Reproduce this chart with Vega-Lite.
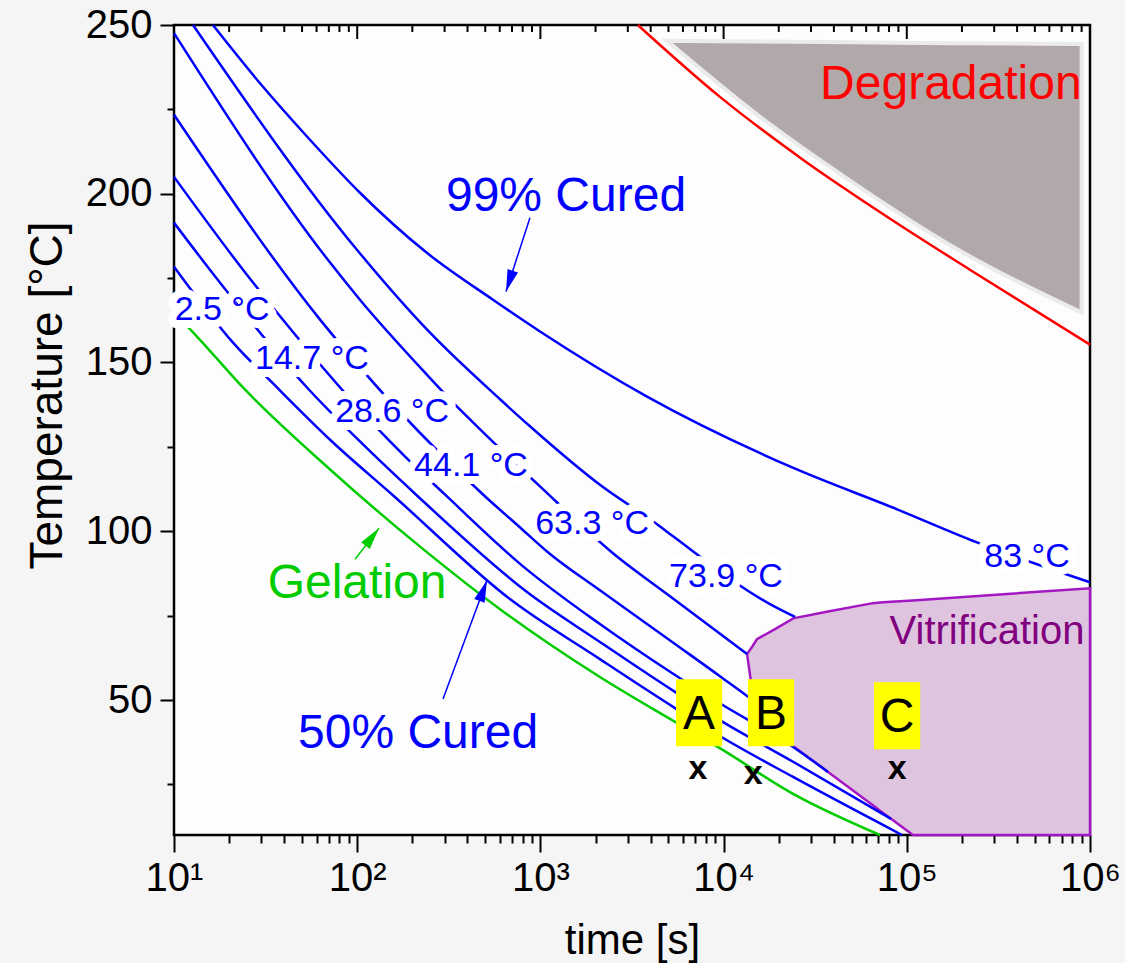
{
  "$schema": "https://vega.github.io/schema/vega-lite/v6.json",
  "width": 916,
  "height": 810,
  "autosize": "none",
  "padding": {"left": 174, "top": 25, "right": 35, "bottom": 128},
  "background": "#f5f5f5",
  "config": {
    "font": "Liberation Sans",
    "view": {"stroke": "#000000", "strokeWidth": 2.5, "fill": "#fdfdfd"},
    "axis": {"labelFont": "Liberation Sans", "titleFont": "Liberation Sans", "labelColor": "#000000", "titleColor": "#000000", "tickColor": "#000000", "titleFontWeight": "normal", "grid": false, "domain": false}
  },
  "datasets": {
    "curves": [
      {"s": "99", "t": 16.3, "T": 250}, {"s": "99", "t": 29.4, "T": 232.8}, {"s": "99", "t": 55.2, "T": 216.0}, {"s": "99", "t": 103.5, "T": 200.3}, {"s": "99", "t": 240, "T": 182.5}, {"s": "99", "t": 551, "T": 168.6}, {"s": "99", "t": 995, "T": 159.2}, {"s": "99", "t": 3820, "T": 139.9}, {"s": "99", "t": 23000, "T": 119.2}, {"s": "99", "t": 88500, "T": 106.5}, {"s": "99", "t": 241500, "T": 96.7}, {"s": "99", "t": 1000000, "T": 84.9},
      {"s": "95", "t": 12.7, "T": 250}, {"s": "95", "t": 99.7, "T": 183.4}, {"s": "95", "t": 249, "T": 158.9}, {"s": "95", "t": 602, "T": 139.1}, {"s": "95", "t": 877, "T": 131.1}, {"s": "95", "t": 2168, "T": 113.3}, {"s": "95", "t": 4330, "T": 102.1}, {"s": "95", "t": 5300, "T": 98.5}, {"s": "95", "t": 17920, "T": 78.4}, {"s": "95", "t": 24550, "T": 74.6},
      {"s": "90", "t": 10, "T": 247.6}, {"s": "90", "t": 71.1, "T": 179.6}, {"s": "90", "t": 103.5, "T": 168.6}, {"s": "90", "t": 240, "T": 146.4}, {"s": "90", "t": 333, "T": 138.2}, {"s": "90", "t": 451, "T": 131.1}, {"s": "90", "t": 995, "T": 113.3}, {"s": "90", "t": 2489, "T": 93.5}, {"s": "90", "t": 4908, "T": 81.4}, {"s": "90", "t": 13430, "T": 63.6},
      {"s": "80", "t": 10, "T": 223.4}, {"s": "80", "t": 62.7, "T": 162.7}, {"s": "80", "t": 486, "T": 110.9}, {"s": "80", "t": 794, "T": 100.6}, {"s": "80", "t": 1099, "T": 93.8}, {"s": "80", "t": 2113, "T": 82.5}, {"s": "80", "t": 5430, "T": 66.6}, {"s": "80", "t": 9680, "T": 56.8}, {"s": "80", "t": 15800, "T": 48.2}, {"s": "80", "t": 19700, "T": 43.8},
      {"s": "70", "t": 10, "T": 205.0}, {"s": "70", "t": 23.8, "T": 177.5}, {"s": "70", "t": 36.5, "T": 164.8}, {"s": "70", "t": 151, "T": 126.6}, {"s": "70", "t": 182, "T": 122.2}, {"s": "70", "t": 301, "T": 110.9}, {"s": "70", "t": 804, "T": 89.6}, {"s": "70", "t": 2113, "T": 72.5}, {"s": "70", "t": 5430, "T": 57.4}, {"s": "70", "t": 9680, "T": 48.8}, {"s": "70", "t": 23950, "T": 36.1}, {"s": "70", "t": 37150, "T": 28.7},
      {"s": "60", "t": 10, "T": 191.4}, {"s": "60", "t": 15.7, "T": 177.5}, {"s": "60", "t": 53.2, "T": 142.6}, {"s": "60", "t": 103.5, "T": 126.6}, {"s": "60", "t": 209, "T": 110.9}, {"s": "60", "t": 845, "T": 82.0}, {"s": "60", "t": 2113, "T": 67.2}, {"s": "60", "t": 5430, "T": 52.4}, {"s": "60", "t": 9680, "T": 43.8}, {"s": "60", "t": 23950, "T": 31.7}, {"s": "60", "t": 82000, "T": 14.8},
      {"s": "50", "t": 10, "T": 178.4}, {"s": "50", "t": 21.0, "T": 155.9}, {"s": "50", "t": 36.5, "T": 142.6}, {"s": "50", "t": 72.8, "T": 126.6}, {"s": "50", "t": 155, "T": 110.9}, {"s": "50", "t": 682, "T": 79.9}, {"s": "50", "t": 2113, "T": 62.1}, {"s": "50", "t": 5430, "T": 47.6}, {"s": "50", "t": 9680, "T": 39.1}, {"s": "50", "t": 23950, "T": 27.2}, {"s": "50", "t": 94200, "T": 10},
      {"s": "gel", "t": 10, "T": 164.8}, {"s": "gel", "t": 13.5, "T": 157.4}, {"s": "gel", "t": 23.8, "T": 142.6}, {"s": "gel", "t": 71.1, "T": 118.3}, {"s": "gel", "t": 229, "T": 94.7}, {"s": "gel", "t": 602, "T": 76.9}, {"s": "gel", "t": 2113, "T": 56.8}, {"s": "gel", "t": 5430, "T": 43.5}, {"s": "gel", "t": 9680, "T": 35.5}, {"s": "gel", "t": 23950, "T": 22.2}, {"s": "gel", "t": 71400, "T": 10},
      {"s": "deg", "t": 3400, "T": 250}, {"s": "deg", "t": 9550, "T": 228.7}, {"s": "deg", "t": 27100, "T": 210.1}, {"s": "deg", "t": 78000, "T": 193.2}, {"s": "deg", "t": 221000, "T": 177.5}, {"s": "deg", "t": 1000000, "T": 155.3}
    ],
    "degr": [
      {"t": 4910, "lo": 245.3, "hi": 245.3}, {"t": 15800, "lo": 222.8, "hi": 245.1}, {"t": 50800, "lo": 203.3, "hi": 244.9}, {"t": 178600, "lo": 184.3, "hi": 244.6}, {"t": 900000, "lo": 164.8, "hi": 244.4}
    ],
    "vitr": [
      {"t": 13430, "lo": 63.6, "hi": 63.6}, {"t": 14290, "lo": 53.3, "hi": 65.7}, {"t": 15200, "lo": 51.3, "hi": 68.0}, {"t": 19080, "lo": 44.1, "hi": 71.0}, {"t": 24000, "lo": 36.3, "hi": 74.2}, {"t": 37150, "lo": 28.7, "hi": 76.2}, {"t": 65300, "lo": 18.8, "hi": 78.7}, {"t": 71400, "lo": 17.2, "hi": 78.9}, {"t": 82000, "lo": 14.8, "hi": 79.1}, {"t": 108000, "lo": 10, "hi": 79.5}, {"t": 1000000, "lo": 10, "hi": 83.1}
    ],
    "templabels": [
      {"txt": "2.5 °C", "t": 18.3, "T": 165.7}, {"txt": "14.7 °C", "t": 56.6, "T": 150.9}, {"txt": "28.6 °C", "t": 155, "T": 135.2}, {"txt": "44.1 °C", "t": 418, "T": 119.2}, {"txt": "63.3 °C", "t": 1915, "T": 102.1}, {"txt": "73.9 °C", "t": 10300, "T": 86.4}, {"txt": "83 °C", "t": 453000, "T": 92.3}
    ],
    "biglabels": [
      {"txt": "99% Cured", "g": "cure", "t": 1380, "T": 199.1}, {"txt": "50% Cured", "g": "cure", "t": 215, "T": 39.9}, {"txt": "Gelation", "g": "gel", "t": 99.8, "T": 84.3}, {"txt": "Degradation", "g": "deg", "t": 174000, "T": 232.2}
    ],
    "vitlabel": [{"txt": "Vitrification", "t": 274000, "T": 70.1}],
    "arrows": [
      {"k": "cure99", "t": 877, "T": 192.9, "t2": 649, "T2": 171.0},
      {"k": "gel", "t": 97.3, "T": 91.7, "t2": 131.5, "T2": 100.9},
      {"k": "cure50", "t": 294, "T": 50.3, "t2": 511, "T2": 85.5}
    ],
    "boxes": [
      {"k": "A", "t": 7350, "T": 46.2}, {"k": "B", "t": 18150, "T": 46.2}, {"k": "C", "t": 88500, "T": 45.3}
    ],
    "xmarks": [
      {"t": 7250, "T": 29.6}, {"t": 14500, "T": 28.1}, {"t": 88500, "T": 29.6}
    ],
    "xticks": [
      {"t": 10}, {"t": 20}, {"t": 30}, {"t": 40}, {"t": 50}, {"t": 60}, {"t": 70}, {"t": 80}, {"t": 90},
      {"t": 100}, {"t": 200}, {"t": 300}, {"t": 400}, {"t": 500}, {"t": 600}, {"t": 700}, {"t": 800}, {"t": 900},
      {"t": 1000}, {"t": 2000}, {"t": 3000}, {"t": 4000}, {"t": 5000}, {"t": 6000}, {"t": 7000}, {"t": 8000}, {"t": 9000},
      {"t": 10000}, {"t": 20000}, {"t": 30000}, {"t": 40000}, {"t": 50000}, {"t": 60000}, {"t": 70000}, {"t": 80000}, {"t": 90000},
      {"t": 100000}, {"t": 200000}, {"t": 300000}, {"t": 400000}, {"t": 500000}, {"t": 600000}, {"t": 700000}, {"t": 800000}, {"t": 900000},
      {"t": 1000000}
    ]
  },
  "layer": [
    {
      "data": {"name": "degr"},
      "mark": {"type": "area", "fill": "#b1a9a9", "stroke": "#ebebeb", "strokeWidth": 4, "interpolate": "monotone"},
      "encoding": {
        "x": {"field": "t", "type": "quantitative", "scale": {"type": "log", "domain": [10, 1000000]}, "axis": null},
        "y": {"field": "lo", "type": "quantitative", "scale": {"domain": [10, 250], "nice": false, "zero": false}, "axis": null},
        "y2": {"field": "hi"}
      }
    },
    {
      "data": {"name": "vitr"},
      "mark": {"type": "area", "fill": "#dfc4df", "stroke": "#a317c2", "strokeWidth": 2.5},
      "encoding": {
        "x": {"field": "t", "type": "quantitative", "scale": {"type": "log", "domain": [10, 1000000]}, "axis": null},
        "y": {"field": "lo", "type": "quantitative", "scale": {"domain": [10, 250], "nice": false, "zero": false}, "axis": null},
        "y2": {"field": "hi"}
      }
    },
    {
      "data": {"name": "xticks"},
      "transform": [{"filter": "abs(log(datum.t)/LN10 - round(log(datum.t)/LN10)) < 0.001"}],
      "mark": {"type": "rule", "color": "#000000", "strokeWidth": 2},
      "encoding": {
        "x": {"field": "t", "type": "quantitative", "scale": {"type": "log", "domain": [10, 1000000]}, "axis": null},
        "x2": {"field": "t"},
        "y": {"datum": 250, "type": "quantitative", "scale": {"domain": [10, 250], "nice": false, "zero": false}, "axis": null},
        "y2": {"datum": 245.85}
      }
    },
    {
      "data": {"name": "xticks"},
      "transform": [{"filter": "abs(log(datum.t)/LN10 - round(log(datum.t)/LN10)) >= 0.001"}],
      "mark": {"type": "rule", "color": "#000000", "strokeWidth": 2},
      "encoding": {
        "x": {"field": "t", "type": "quantitative", "scale": {"type": "log", "domain": [10, 1000000]}, "axis": null},
        "x2": {"field": "t"},
        "y": {"datum": 250, "type": "quantitative", "scale": {"domain": [10, 250], "nice": false, "zero": false}, "axis": null},
        "y2": {"datum": 247.93}
      }
    },
    {
      "data": {"name": "curves"},
      "transform": [{"filter": "datum.s == 'deg'"}],
      "mark": {"type": "line", "color": "#ff0000", "strokeWidth": 2.5, "interpolate": "monotone"},
      "encoding": {
        "x": {"field": "t", "type": "quantitative", "scale": {"type": "log", "domain": [10, 1000000]}, "axis": null},
        "y": {"field": "T", "type": "quantitative", "scale": {"domain": [10, 250], "nice": false, "zero": false}, "axis": null}
      }
    },
    {
      "data": {"name": "curves"},
      "transform": [{"filter": "datum.s != 'deg' && datum.s != 'gel'"}],
      "mark": {"type": "line", "color": "#0000ff", "strokeWidth": 2.5, "interpolate": "monotone"},
      "encoding": {
        "detail": {"field": "s", "type": "nominal"},
        "x": {"field": "t", "type": "quantitative", "scale": {"type": "log", "domain": [10, 1000000]},
          "axis": {
            "orient": "bottom",
            "values": [10, 20, 30, 40, 50, 60, 70, 80, 90, 100, 200, 300, 400, 500, 600, 700, 800, 900, 1000, 2000, 3000, 4000, 5000, 6000, 7000, 8000, 9000, 10000, 20000, 30000, 40000, 50000, 60000, 70000, 80000, 90000, 100000, 200000, 300000, 400000, 500000, 600000, 700000, 800000, 900000, 1000000],
            "labelExpr": "abs(log(datum.value)/LN10 - round(log(datum.value)/LN10)) < 0.001 ? '10' + ['⁰','¹','²','³','⁴','⁵','⁶'][round(log(datum.value)/LN10)] : ''",
            "tickSize": {"condition": {"test": "abs(log(datum.value)/LN10 - round(log(datum.value)/LN10)) < 0.001", "value": 17}, "value": 8},
            "tickWidth": 2,
            "labelFontSize": 40,
            "labelPadding": 6,
            "labelFlush": false,
            "labelOverlap": false,
            "labelBound": false,
            "title": "time [s]",
            "titleFontSize": 42,
            "titleY": 118,
            "titleBaseline": "alphabetic"
          }
        },
        "y": {"field": "T", "type": "quantitative", "scale": {"domain": [10, 250], "nice": false, "zero": false},
          "axis": {
            "orient": "left",
            "values": [25, 50, 75, 100, 125, 150, 175, 200, 225, 250],
            "labelExpr": "(datum.value == 50 || datum.value == 100 || datum.value == 150 || datum.value == 200 || datum.value == 250) ? datum.label : ''",
            "tickSize": {"condition": {"test": "datum.value == 50 || datum.value == 100 || datum.value == 150 || datum.value == 200 || datum.value == 250", "value": 14}, "value": 7},
            "tickWidth": 2,
            "labelFontSize": 40,
            "labelPadding": 8,
            "labelOverlap": false,
            "title": "Temperature [°C]",
            "titleFontSize": 46,
            "titleAngle": -90,
            "titleX": -127,
            "titleY": 370,
            "titleAlign": "center",
            "titleBaseline": "middle"
          }
        }
      }
    },
    {
      "data": {"name": "curves"},
      "transform": [{"filter": "datum.s == 'gel'"}],
      "mark": {"type": "line", "color": "#00cc00", "strokeWidth": 2.5, "interpolate": "monotone"},
      "encoding": {
        "x": {"field": "t", "type": "quantitative", "scale": {"type": "log", "domain": [10, 1000000]}, "axis": null},
        "y": {"field": "T", "type": "quantitative", "scale": {"domain": [10, 250], "nice": false, "zero": false}, "axis": null}
      }
    },
    {
      "data": {"name": "arrows"},
      "transform": [{"filter": "datum.k != 'gel'"}],
      "mark": {"type": "rule", "color": "#0000ff", "strokeWidth": 1.5},
      "encoding": {
        "x": {"field": "t", "type": "quantitative", "scale": {"type": "log", "domain": [10, 1000000]}, "axis": null},
        "y": {"field": "T", "type": "quantitative", "scale": {"domain": [10, 250], "nice": false, "zero": false}, "axis": null},
        "x2": {"field": "t2"}, "y2": {"field": "T2"}
      }
    },
    {
      "data": {"name": "arrows"},
      "transform": [{"filter": "datum.k == 'gel'"}],
      "mark": {"type": "rule", "color": "#00cc00", "strokeWidth": 1.5},
      "encoding": {
        "x": {"field": "t", "type": "quantitative", "scale": {"type": "log", "domain": [10, 1000000]}, "axis": null},
        "y": {"field": "T", "type": "quantitative", "scale": {"domain": [10, 250], "nice": false, "zero": false}, "axis": null},
        "x2": {"field": "t2"}, "y2": {"field": "T2"}
      }
    },
    {
      "data": {"name": "arrows"},
      "transform": [{"filter": "datum.k == 'cure99'"}],
      "mark": {"type": "point", "shape": "M0,0L0.4,1.6L-0.4,1.6Z", "size": 756, "filled": true, "opacity": 1, "color": "#0000ff", "angle": 198},
      "encoding": {"x": {"field": "t2", "type": "quantitative", "scale": {"type": "log", "domain": [10, 1000000]}, "axis": null}, "y": {"field": "T2", "type": "quantitative", "scale": {"domain": [10, 250], "nice": false, "zero": false}, "axis": null}}
    },
    {
      "data": {"name": "arrows"},
      "transform": [{"filter": "datum.k == 'cure50'"}],
      "mark": {"type": "point", "shape": "M0,0L0.4,1.6L-0.4,1.6Z", "size": 756, "filled": true, "opacity": 1, "color": "#0000ff", "angle": 20},
      "encoding": {"x": {"field": "t2", "type": "quantitative", "scale": {"type": "log", "domain": [10, 1000000]}, "axis": null}, "y": {"field": "T2", "type": "quantitative", "scale": {"domain": [10, 250], "nice": false, "zero": false}, "axis": null}}
    },
    {
      "data": {"name": "arrows"},
      "transform": [{"filter": "datum.k == 'gel'"}],
      "mark": {"type": "point", "shape": "M0,0L0.4,1.6L-0.4,1.6Z", "size": 756, "filled": true, "opacity": 1, "color": "#00cc00", "angle": 38},
      "encoding": {"x": {"field": "t2", "type": "quantitative", "scale": {"type": "log", "domain": [10, 1000000]}, "axis": null}, "y": {"field": "T2", "type": "quantitative", "scale": {"domain": [10, 250], "nice": false, "zero": false}, "axis": null}}
    },
    {
      "data": {"name": "templabels"},
      "mark": {"type": "text", "fontSize": 34, "fill": "#ffffff", "stroke": "#ffffff", "strokeWidth": 16, "strokeJoin": "round", "baseline": "middle", "align": "center"},
      "encoding": {
        "x": {"field": "t", "type": "quantitative", "scale": {"type": "log", "domain": [10, 1000000]}, "axis": null},
        "y": {"field": "T", "type": "quantitative", "scale": {"domain": [10, 250], "nice": false, "zero": false}, "axis": null},
        "text": {"field": "txt"}
      }
    },
    {
      "data": {"name": "templabels"},
      "mark": {"type": "text", "fontSize": 34, "color": "#0000ff", "baseline": "middle", "align": "center"},
      "encoding": {
        "x": {"field": "t", "type": "quantitative", "scale": {"type": "log", "domain": [10, 1000000]}, "axis": null},
        "y": {"field": "T", "type": "quantitative", "scale": {"domain": [10, 250], "nice": false, "zero": false}, "axis": null},
        "text": {"field": "txt"}
      }
    },
    {
      "data": {"name": "biglabels"},
      "mark": {"type": "text", "fontSize": 48, "baseline": "middle", "align": "center"},
      "encoding": {
        "x": {"field": "t", "type": "quantitative", "scale": {"type": "log", "domain": [10, 1000000]}, "axis": null},
        "y": {"field": "T", "type": "quantitative", "scale": {"domain": [10, 250], "nice": false, "zero": false}, "axis": null},
        "text": {"field": "txt"},
        "color": {"field": "g", "type": "nominal", "scale": {"domain": ["cure", "gel", "deg"], "range": ["#0000ff", "#00cc00", "#ff0000"]}, "legend": null}
      }
    },
    {
      "data": {"name": "vitlabel"},
      "mark": {"type": "text", "fontSize": 40, "color": "#800080", "baseline": "middle", "align": "center"},
      "encoding": {
        "x": {"field": "t", "type": "quantitative", "scale": {"type": "log", "domain": [10, 1000000]}, "axis": null},
        "y": {"field": "T", "type": "quantitative", "scale": {"domain": [10, 250], "nice": false, "zero": false}, "axis": null},
        "text": {"field": "txt"}
      }
    },
    {
      "data": {"name": "boxes"},
      "mark": {"type": "point", "shape": "M-0.69,-1H0.69V1H-0.69Z", "size": 4489, "filled": true, "opacity": 1, "color": "#ffff00", "strokeWidth": 0},
      "encoding": {
        "x": {"field": "t", "type": "quantitative", "scale": {"type": "log", "domain": [10, 1000000]}, "axis": null},
        "y": {"field": "T", "type": "quantitative", "scale": {"domain": [10, 250], "nice": false, "zero": false}, "axis": null}
      }
    },
    {
      "data": {"name": "boxes"},
      "mark": {"type": "text", "fontSize": 48, "color": "#000000", "baseline": "middle", "align": "center", "dy": 2},
      "encoding": {
        "x": {"field": "t", "type": "quantitative", "scale": {"type": "log", "domain": [10, 1000000]}, "axis": null},
        "y": {"field": "T", "type": "quantitative", "scale": {"domain": [10, 250], "nice": false, "zero": false}, "axis": null},
        "text": {"field": "k"}
      }
    },
    {
      "data": {"name": "xmarks"},
      "mark": {"type": "text", "fontSize": 34, "fontWeight": "bold", "color": "#000000", "baseline": "middle", "align": "center", "text": "x"},
      "encoding": {
        "x": {"field": "t", "type": "quantitative", "scale": {"type": "log", "domain": [10, 1000000]}, "axis": null},
        "y": {"field": "T", "type": "quantitative", "scale": {"domain": [10, 250], "nice": false, "zero": false}, "axis": null}
      }
    }
  ],
  "resolve": {"axis": {"x": "independent", "y": "independent"}}
}
